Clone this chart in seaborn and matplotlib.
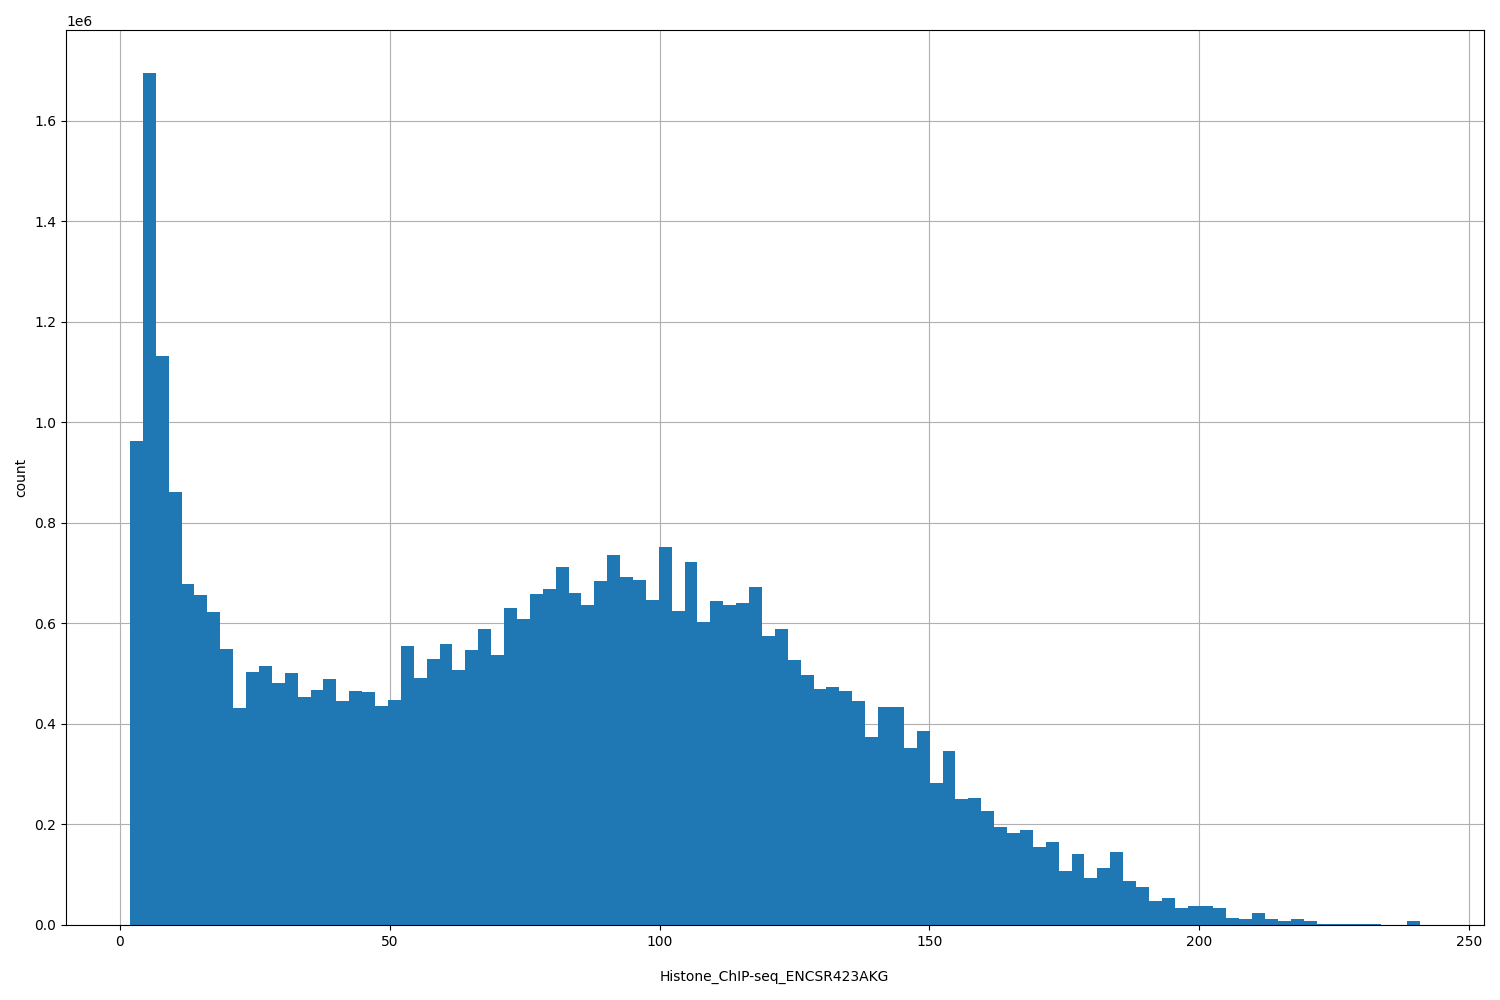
import numpy as np
import pandas as pd
import matplotlib
matplotlib.use("Agg")
import matplotlib.pyplot as plt
import seaborn as sns

# histogram bins (100 bins from ~1.85 to ~240.9)
bin_lo = 1.85
bin_hi = 240.9
counts_m = [
    0.963, 1.696, 1.133, 0.862, 0.679, 0.657, 0.623, 0.550, 0.432, 0.504,
    0.516, 0.482, 0.502, 0.454, 0.468, 0.490, 0.446, 0.466, 0.464, 0.436,
    0.448, 0.556, 0.492, 0.530, 0.560, 0.508, 0.548, 0.588, 0.538, 0.631,
    0.608, 0.659, 0.669, 0.713, 0.661, 0.637, 0.685, 0.737, 0.693, 0.687,
    0.647, 0.753, 0.625, 0.723, 0.603, 0.645, 0.637, 0.641, 0.673, 0.575,
    0.588, 0.528, 0.498, 0.470, 0.474, 0.466, 0.446, 0.374, 0.434, 0.434,
    0.352, 0.386, 0.283, 0.346, 0.251, 0.253, 0.227, 0.195, 0.183, 0.189,
    0.155, 0.165, 0.107, 0.141, 0.094, 0.113, 0.145, 0.088, 0.076, 0.048,
    0.054, 0.034, 0.038, 0.038, 0.034, 0.014, 0.012, 0.024, 0.012, 0.008,
    0.012, 0.008, 0.002, 0.002, 0.002, 0.002, 0.001, 0.0, 0.0, 0.008,
]
counts = np.array(counts_m) * 1e6
edges = np.linspace(bin_lo, bin_hi, len(counts) + 1)
centers = (edges[:-1] + edges[1:]) / 2
df = pd.DataFrame({"x": centers, "w": counts})

fig, ax = plt.subplots(figsize=(15, 10), dpi=100)
sns.histplot(data=df, x="x", weights="w", bins=list(edges), color="#1f77b4",
             alpha=1, linewidth=0, ax=ax)
ax.grid(True, color="#b0b0b0", linewidth=0.8)
ax.set_axisbelow(True)
ax.set_xlim(-10, 252.7)
ax.set_xlabel("Histone_ChIP-seq_ENCSR423AKG", labelpad=15)
ax.set_ylabel("count")
fig.subplots_adjust(left=0.044, right=0.989, top=0.97, bottom=0.075)
fig.savefig("out.png")
